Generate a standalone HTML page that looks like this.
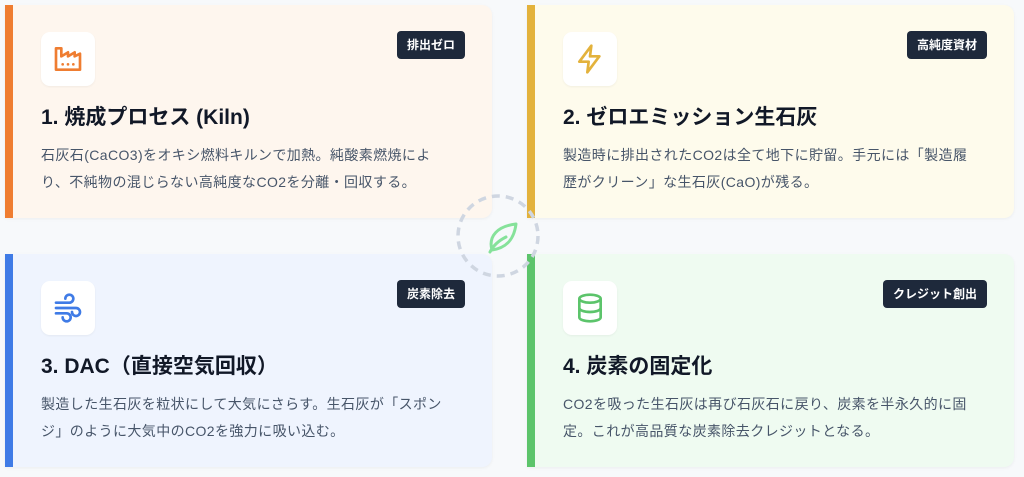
<!DOCTYPE html><html><head><meta charset="utf-8"><style>
*{margin:0;padding:0;box-sizing:border-box}
body{width:1024px;height:477px;background:#f7f9fb;position:relative;overflow:hidden;font-family:"Liberation Sans","Noto Sans CJK JP",sans-serif}
.card{position:absolute;width:487px;height:213px;border-radius:0 10px 10px 0;box-shadow:0 1px 3px rgba(0,0,0,.05)}
.bar{position:absolute;left:0;top:0;bottom:0;width:8px}
.icon{position:absolute;left:36px;top:27px;width:54px;height:54px;background:#fff;border-radius:9px;box-shadow:0 1px 2px rgba(0,0,0,.05);display:flex;align-items:center;justify-content:center}
.badge{position:absolute;top:26px;right:27px;height:28px;padding:0 10px;background:#1e293b;color:#fff;font-size:12px;font-weight:bold;line-height:28px;border-radius:4px}
.t{position:absolute;left:36px;top:96px;font-size:21px;font-weight:bold;color:#111827;white-space:nowrap}
.d{position:absolute;left:36px;top:137px;width:406px;font-size:14px;letter-spacing:0.4px;line-height:27px;color:#475569}
</style></head><body>
<div class="card" style="left:5px;top:5px;background:#fef6ee"><div class="bar" style="background:#ef7d31"></div>
<div class="icon"><svg width="32" height="32" viewBox="0 0 24 24" fill="none" stroke="#ef7d31" stroke-width="2" stroke-linecap="round" stroke-linejoin="round"><path d="M3 20V4h4v6l5-3v3l5-3v3l4-2v12z"/><path d="M8 16h.01M12 16h.01M16 16h.01"/></svg></div>
<div class="badge">排出ゼロ</div><div class="t">1. 焼成プロセス (Kiln)</div>
<div class="d">石灰石(CaCO3)をオキシ燃料キルンで加熱。純酸素燃焼により、不純物の混じらない高純度なCO2を分離・回収する。</div></div>
<div class="card" style="left:527px;top:5px;background:#fefbec"><div class="bar" style="background:#e3b23c"></div>
<div class="icon"><svg width="32" height="32" viewBox="0 0 24 24" fill="none" stroke="#e3b23c" stroke-width="2" stroke-linejoin="round"><path d="M13 2L4 14h7l-1 8 9-12h-7z"/></svg></div>
<div class="badge">高純度資材</div><div class="t">2. ゼロエミッション生石灰</div>
<div class="d">製造時に排出されたCO2は全て地下に貯留。手元には「製造履歴がクリーン」な生石灰(CaO)が残る。</div></div>
<div class="card" style="left:5px;top:254px;background:#eff4fe"><div class="bar" style="background:#3f7be6"></div>
<div class="icon"><svg width="32" height="32" viewBox="0 0 24 24" fill="none" stroke="#3f7be6" stroke-width="2" stroke-linecap="round"><path d="M3 8h10a3 3 0 1 0-3-3"/><path d="M3 12h15a3 3 0 1 1-3 3"/><path d="M3 16h8a3 3 0 1 1-3 3"/></svg></div>
<div class="badge">炭素除去</div><div class="t">3. DAC（直接空気回収）</div>
<div class="d">製造した生石灰を粒状にして大気にさらす。生石灰が「スポンジ」のように大気中のCO2を強力に吸い込む。</div></div>
<div class="card" style="left:527px;top:254px;background:#effbf1"><div class="bar" style="background:#5cc46b"></div>
<div class="icon"><svg width="32" height="32" viewBox="0 0 24 24" fill="none" stroke="#5cc46b" stroke-width="2"><ellipse cx="12" cy="5" rx="8" ry="3"/><path d="M4 5v14c0 1.7 3.6 3 8 3s8-1.3 8-3V5"/><path d="M4 12c0 1.7 3.6 3 8 3s8-1.3 8-3"/></svg></div>
<div class="badge">クレジット創出</div><div class="t">4. 炭素の固定化</div>
<div class="d">CO2を吸った生石灰は再び石灰石に戻り、炭素を半永久的に固定。これが高品質な炭素除去クレジットとなる。</div></div>
<svg style="position:absolute;left:452px;top:190px" width="92" height="92" viewBox="0 0 92 92"><circle cx="46" cy="46" r="40" fill="none" stroke="#cfd6e1" stroke-width="3.5" stroke-dasharray="8 6"/>
<g fill="none" stroke="#86e29a" stroke-width="3" stroke-linecap="round" stroke-linejoin="round"><path d="M40 60c-4-14 6-24 24-26-2 16-10 24-24 26z"/><path d="M38 62c4-8 10-12 16-15"/></g></svg>
</body></html>
